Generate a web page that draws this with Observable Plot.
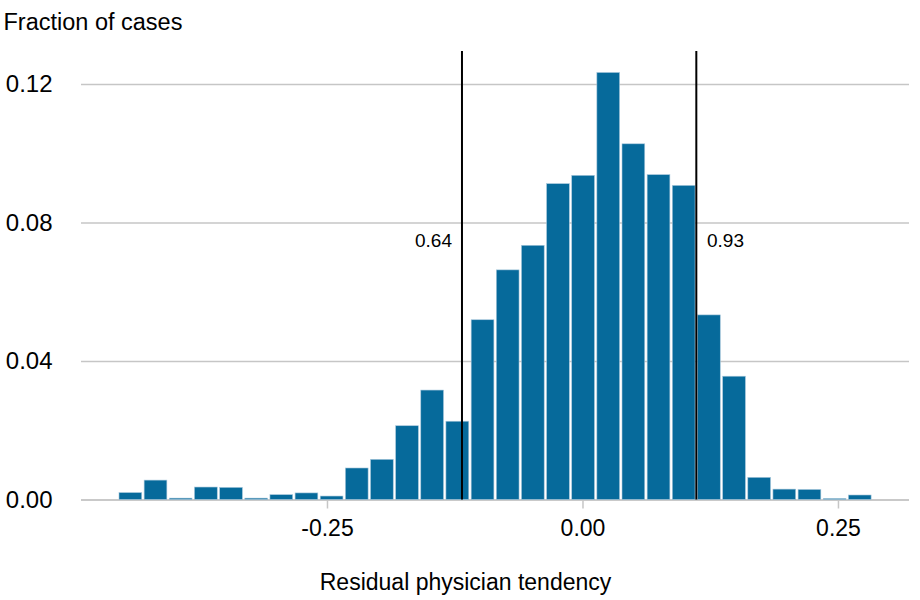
<!DOCTYPE html>
<html>
<head>
<meta charset="utf-8">
<script src="https://cdn.jsdelivr.net/npm/d3@7"></script>
<script src="https://cdn.jsdelivr.net/npm/@observablehq/plot@0.6"></script>
<style>
  html, body { margin: 0; padding: 0; background: #fff; }
  #chart svg { display: block; font-family: "Liberation Sans", Arial, sans-serif; }
</style>
</head>
<body>
<div id="chart"></div>
<script>
// Histogram bin edges (residual physician tendency)
const binEdges = [
  -0.4547, -0.4301, -0.4055, -0.3809, -0.3562, -0.3316, -0.3070, -0.2824,
  -0.2578, -0.2332, -0.2086, -0.1840, -0.1594, -0.1348, -0.1101, -0.0855,
  -0.0609, -0.0363, -0.0117, 0.0129, 0.0375, 0.0621, 0.0867, 0.1113,
  0.1360, 0.1606, 0.1852, 0.2098, 0.2344, 0.2590, 0.2836
];
// Fraction of cases per bin
const fractions = [
  0.0020, 0.0056, 0.0004, 0.0036, 0.0035, 0.0004, 0.0014, 0.0019,
  0.0010, 0.0091, 0.0116, 0.0213, 0.0316, 0.0226, 0.0519, 0.0663,
  0.0734, 0.0912, 0.0936, 0.1233, 0.1027, 0.0938, 0.0907, 0.0533,
  0.0356, 0.0064, 0.0030, 0.0029, 0.0003, 0.0013
];
// Vertical cutoff lines and their labels
const cutoffs = [-0.1184, 0.1109];
const cutoffLabels = ["0.64", "0.93"];
const cutoffLabelY = 0.0747;
// Axis ticks
const xTicks = [-0.25, 0, 0.25];
const yTicks = [0, 0.04, 0.08, 0.12];
const yTitle = "Fraction of cases";
const xTitle = "Residual physician tendency";

const bins = fractions.map((f, i) => ({x1: binEdges[i], x2: binEdges[i + 1], y: f}));
const labels = cutoffs.map((c, i) => ({x: c, y: cutoffLabelY, text: cutoffLabels[i], side: i}));

const fmt = d => d.toFixed(2);
const gray = "#c6c6c6";

const chart = Plot.plot({
  width: 920,
  height: 600,
  marginLeft: 81,
  marginRight: 11,
  marginTop: 51,
  marginBottom: 100.5,
  style: {fontFamily: '"Liberation Sans", Arial, sans-serif', background: "#fff"},
  x: {domain: [-0.4907, 0.3195]},
  y: {domain: [0, 0.1295]},
  marks: [
    Plot.gridY(yTicks, {stroke: gray, strokeOpacity: 1, strokeWidth: 1.5}),
    Plot.axisY(yTicks, {tickSize: 0, tickPadding: 29, fontSize: 24, tickFormat: fmt, fill: "#000", label: null}),
    Plot.ruleY([0], {stroke: gray, strokeWidth: 1.5}),
    Plot.axisX(xTicks, {tickSize: 9, tickPadding: 11, fontSize: 23, tickFormat: fmt, stroke: gray, strokeWidth: 1.5, fill: "#000", label: null}),
    Plot.rectY(bins, {x1: "x1", x2: "x2", y: "y", fill: "#066a9b", stroke: "#a9c8dc", strokeWidth: 0.6, insetLeft: 1.2, insetRight: 1.2}),
    Plot.ruleX(cutoffs, {stroke: "#000", strokeWidth: 2}),
    Plot.text(labels.filter(d => d.side === 0), {x: "x", y: "y", text: "text", textAnchor: "end", dx: -10, fontSize: 19, fill: "#000"}),
    Plot.text(labels.filter(d => d.side === 1), {x: "x", y: "y", text: "text", textAnchor: "start", dx: 10.7, fontSize: 19, fill: "#000"}),
    Plot.text([yTitle], {frameAnchor: "top-left", textAnchor: "start", lineAnchor: "top", dx: -78, dy: -37.7, fontSize: 23.5, fill: "#000"}),
    Plot.text([xTitle], {frameAnchor: "bottom", textAnchor: "middle", lineAnchor: "bottom", dx: -30, dy: 90, fontSize: 23, fill: "#000"})
  ]
});
document.getElementById("chart").append(chart);
</script>
</body>
</html>
